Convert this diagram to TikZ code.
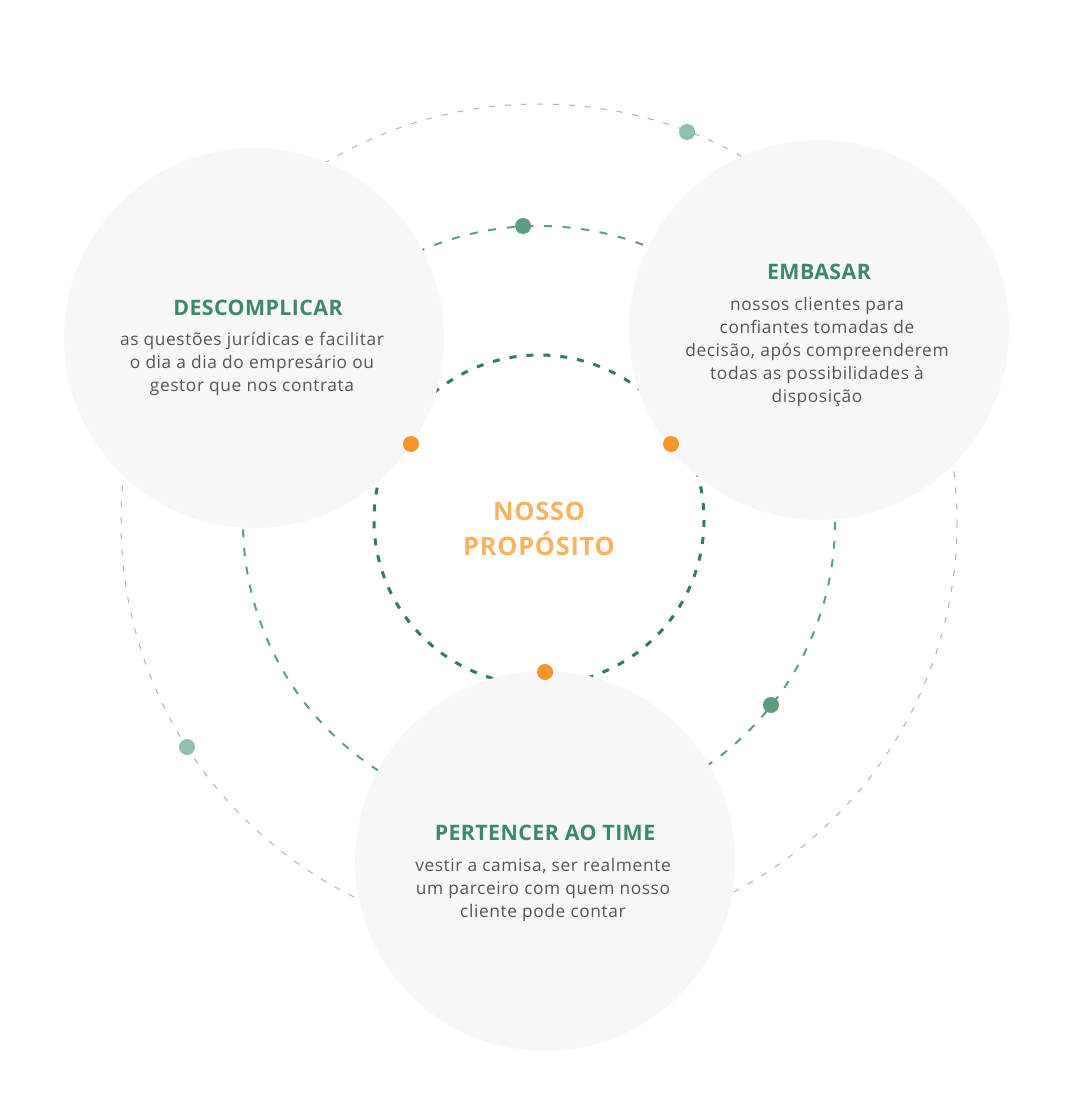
\documentclass[tikz,border=0pt]{standalone}
\usepackage{fontspec}
\setmainfont{Open Sans}
\newfontfamily\bodyfont[LetterSpace=3.5]{Open Sans}
\newfontfamily\headfont[LetterSpace=2]{Open Sans}
\newfontfamily\centrefont[LetterSpace=3]{Open Sans}
\usepackage{xcolor}
\usepackage{tikz}

\definecolor{bubblegray}{HTML}{F7F7F7}
\definecolor{titlegreen}{HTML}{3A8A68}
\definecolor{darkgreen}{HTML}{2E7D5B}
\definecolor{midgreen}{HTML}{5C9D80}
\definecolor{lightgreen}{HTML}{93C0AB}
\definecolor{dotorange}{HTML}{F7942A}
\definecolor{textorange}{HTML}{F9B360}
\definecolor{bodygray}{HTML}{555555}

\begin{document}
\begin{tikzpicture}[x=0.75pt, y=-0.75pt,
  title/.style={text=titlegreen, font=\headfont\fontsize{16}{19}\selectfont\bfseries},
  body/.style={text=bodygray, align=center, font=\bodyfont\fontsize{13}{17.25}\selectfont},
  bubble/.style={fill=bubblegray, draw=none}]
\useasboundingbox (0,0) rectangle (1074,1116);
\fill[white] (0,0) rectangle (1074,1116);

% dashed rings
\draw[lightgreen, line width=0.75pt, dash pattern=on 4.5pt off 7.5pt] (539,522) circle (418);
\draw[midgreen, line width=1.5pt, dash pattern=on 6pt off 8pt] (539,522) circle (296);
\draw[darkgreen, line width=2.25pt, dash pattern=on 5.25pt off 7.5pt] (539,520) circle (165);

% the three bubbles
\fill[bubble] (254,338) circle (190);
\fill[bubble] (819,330) circle (190);
\fill[bubble] (545,861) circle (190);

% dots
\fill[midgreen] (523,226) circle (8);
\fill[midgreen] (771,705) circle (8);
\fill[lightgreen] (687,132) circle (8);
\fill[lightgreen] (187,747) circle (8);
\fill[dotorange] (411,444) circle (8);
\fill[dotorange] (671,444) circle (8);
\fill[dotorange] (545,672) circle (8);

% texts
\node[text=textorange, align=center, font=\centrefont\fontsize{19}{26}\selectfont\bfseries] (proposito) at (539,529) {NOSSO\\PROPÓSITO};

\node[title] (descomplicar) at (258,308) {DESCOMPLICAR};
\node[body] (descomplicartxt) at (252,364) {as questões jurídicas e facilitar\\o dia a dia do empresário ou\\gestor que nos contrata};

\node[title] (embasar) at (819,272) {EMBASAR};
\node[body] (embasartxt) at (817,352) {nossos clientes para\\confiantes tomadas de\\decisão, após compreenderem\\todas as possibilidades à\\disposição};

\node[title] (pertencer) at (545,833) {PERTENCER AO TIME};
\node[body] (pertencertxt) at (543,890) {vestir a camisa, ser realmente\\um parceiro com quem nosso\\cliente pode contar};
\end{tikzpicture}
\end{document}
